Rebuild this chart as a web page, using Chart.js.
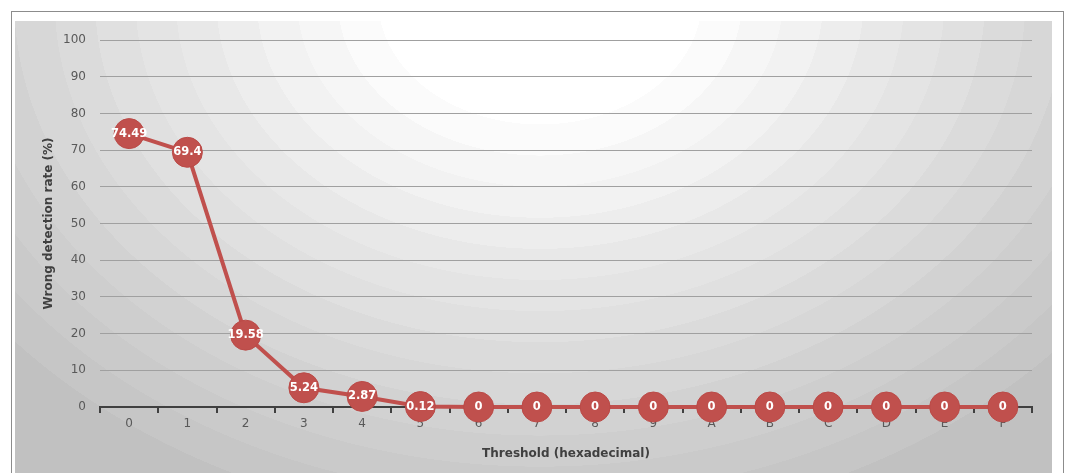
<!DOCTYPE html>
<html>
<head>
<meta charset="utf-8">
<script src="https://cdn.jsdelivr.net/npm/chart.js@4"></script>
<style>
html,body{margin:0;padding:0;background:#fff;}
#wrap{position:relative;width:1065px;height:473px;}
</style>
</head>
<body>
<div id="wrap"><canvas id="c" width="1065" height="473"></canvas></div>
<script>
const categories = ['0','1','2','3','4','5','6','7','8','9','A','B','C','D','E','F'];
const rates = [74.49, 69.4, 19.58, 5.24, 2.87, 0.12, 0, 0, 0, 0, 0, 0, 0, 0, 0, 0];
const yTicks = [0,10,20,30,40,50,60,70,80,90,100];
const xTitle = 'Threshold (hexadecimal)';
const yTitle = 'Wrong detection rate (%)';

const FONT = '"DejaVu Sans", Verdana, sans-serif';

const bgPlugin = {
  id: 'bg',
  beforeDraw(chart) {
    const ctx = chart.ctx;
    ctx.save();
    ctx.fillStyle = '#ffffff';
    ctx.fillRect(0, 0, 1065, 473);
    ctx.strokeStyle = '#8c8c8c';
    ctx.lineWidth = 1;
    ctx.strokeRect(11.5, 11.5, 1052, 470);
    const px = 15, py = 21, pw = 1037, ph = 460;
    ctx.beginPath();
    ctx.rect(px, py, pw, ph);
    ctx.clip();
    ctx.translate(540, 0);
    ctx.scale(1.3, 1);
    const R = 560;
    const g = ctx.createRadialGradient(0, 0, 0, 0, 0, R);
    const steps = 18;
    for (let i = 0; i < steps; i++) {
      const t0 = i / steps, t1 = (i + 1) / steps;
      const t = Math.max(0, (t0 - 0.18)) / 0.82;
      const v = Math.round(255 - 66 * Math.pow(t, 0.95));
      const c = 'rgb(' + v + ',' + v + ',' + v + ')';
      g.addColorStop(t0, c);
      g.addColorStop(Math.min(1, t1 - 0.0001), c);
    }
    ctx.fillStyle = g;
    ctx.fillRect(-600, 0, 1200, 600);
    ctx.restore();
  }
};

const labelPlugin = {
  id: 'vals',
  afterDatasetsDraw(chart) {
    const ctx = chart.ctx;
    const meta = chart.getDatasetMeta(0);
    ctx.save();
    ctx.fillStyle = '#ffffff';
    ctx.font = 'bold 11.5px ' + FONT;
    ctx.textAlign = 'center';
    ctx.textBaseline = 'middle';
    meta.data.forEach((pt, i) => {
      ctx.fillText(String(rates[i]), pt.x, pt.y);
    });
    ctx.restore();
  }
};

new Chart(document.getElementById('c'), {
  type: 'line',
  data: {
    labels: categories,
    datasets: [{
      data: rates,
      borderColor: '#c0504d',
      backgroundColor: '#c0504d',
      borderWidth: 4,
      pointRadius: 15,
      pointHoverRadius: 15,
      pointBorderColor: '#bb4a47',
      pointBorderWidth: 1,
      tension: 0,
      clip: false
    }]
  },
  options: {
    responsive: false,
    animation: false,
    devicePixelRatio: 1,
    layout: { padding: { left: 42, right: 33, top: 40, bottom: 12 } },
    plugins: { legend: { display: false }, tooltip: { enabled: false } },
    scales: {
      x: {
        offset: true,
        grid: { display: true, drawOnChartArea: false, offset: true, color: '#404040', tickLength: 6, lineWidth: 2 },
        border: { display: true, color: '#404040', width: 2 },
        ticks: { color: '#595959', font: { family: FONT, size: 12 }, padding: 4, maxRotation: 0, autoSkip: false },
        title: { display: true, text: xTitle, color: '#404040', font: { family: FONT, size: 12, weight: 'bold' }, padding: { top: 8, bottom: 0 } },
        afterFit(s) { s.height = 54; }
      },
      y: {
        min: 0, max: 100,
        afterBuildTicks(s) { s.ticks = yTicks.map(v => ({ value: v })); },
        grid: { color: '#a0a0a0', lineWidth: 1, drawTicks: false },
        border: { display: false },
        ticks: { color: '#595959', font: { family: FONT, size: 12 }, padding: 14 },
        title: { display: true, text: yTitle, color: '#404040', font: { family: FONT, size: 12, weight: 'bold' }, padding: 0 },
        afterFit(s) { s.width = 58; }
      }
    }
  },
  plugins: [bgPlugin, labelPlugin]
});
</script>
</body>
</html>
